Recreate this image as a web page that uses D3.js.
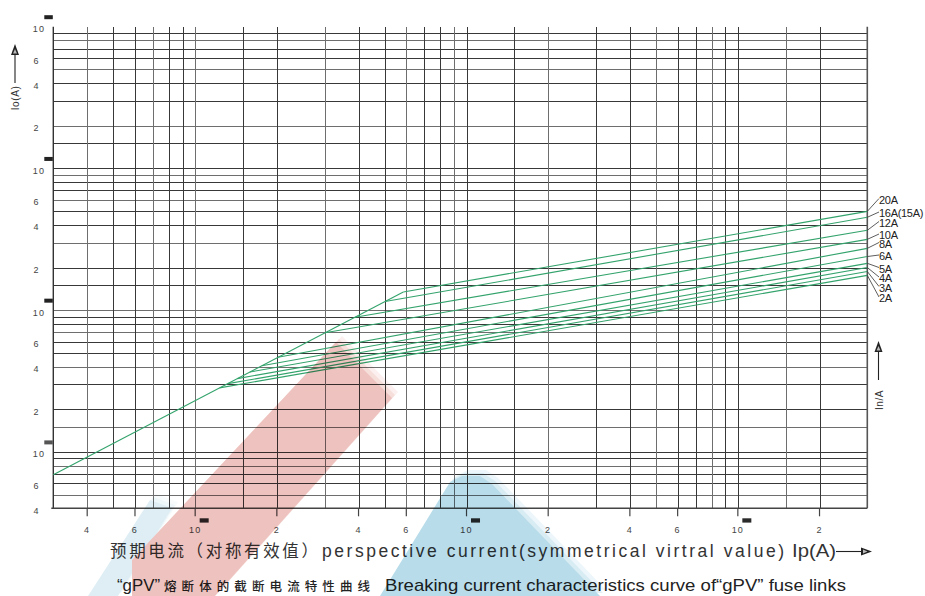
<!DOCTYPE html>
<html>
<head>
<meta charset="utf-8">
<script src="https://cdn.jsdelivr.net/npm/d3@7/dist/d3.min.js"></script>
<style>
  html, body { margin: 0; padding: 0; background: #fff; }
  svg { display: block; }
</style>
</head>
<body>
<svg id="chart" width="925" height="596"></svg>
<script>
// Breaking (cut-off) current characteristics of gPV fuse links, log-log.
const ratings = ["2A", "3A", "4A", "5A", "6A", "8A", "10A", "12A", "16A(15A)", "20A"];
// point where each curve leaves the peak-current line (prospective A, cut-off A)
const kneeIp = [123, 132, 143, 159, 176, 202, 301, 388, 501, 585];
const kneeIo = [283, 303, 329, 366, 405, 465, 692, 892, 1150, 1345];
// cut-off current at the right end of the chart (Ip = 30 kA)
const endIp = 30000;
const endIo = [1760, 1875, 2000, 2140, 2390, 2730, 3160, 3660, 4520, 4980];
// start of the shared peak-current line
const peakStart = [30, 69];

const gridMultipliers = [1, 1.5, 2, 3, 4, 5, 6, 7, 8, 9];
const decades = [10, 100, 1000, 10000, 100000];

const xTickValues = [40, 60, 100, 200, 400, 600, 1000, 2000, 4000, 6000, 10000, 20000];
const xTickLabels = ["4", "6", "10", "2", "4", "6", "10", "2", "4", "6", "10", "2"];
const yTickValues = [40, 60, 100, 200, 400, 600, 1000, 2000, 4000, 6000, 10000, 20000, 40000, 60000, 100000];
const yTickLabels = ["4", "6", "10", "2", "4", "6", "10", "2", "4", "6", "10", "2", "4", "6", "10"];

// ---- layout ----
const L = 53.3, R = 867.3, T = 26.7, B = 508.3;
const labelY = [298, 287.5, 278, 268.5, 256, 243.5, 235, 222.5, 213, 199.5];

const svg = d3.select("#chart");
const x = d3.scaleLog().domain([30, 30000]).range([L, R]);
const y = d3.scaleLog().domain([40, 100000]).range([B, T]);

const gridVals = (dom) => decades.flatMap(d => gridMultipliers.map(m => +(d * m / 10).toPrecision(6)))
  .filter(v => v >= dom[0] - 1e-9 && v <= dom[1] + 1e-9);

const grid = svg.append("g").attr("stroke-width", 1.05).attr("shape-rendering", "crispEdges");
grid.selectAll("line.h").data(gridVals(y.domain())).join("line")
  .attr("class", "h")
  .attr("x1", L).attr("x2", R)
  .attr("y1", d => Math.round(y(d)) + 0.5).attr("y2", d => Math.round(y(d)) + 0.5)
  .attr("stroke", (d, i) => i % 3 === 1 ? "#6e6e6e" : "#383838");
grid.selectAll("line.v").data(gridVals(x.domain())).join("line")
  .attr("class", "v")
  .attr("y1", T).attr("y2", B)
  .attr("x1", d => Math.round(x(d)) + 0.5).attr("x2", d => Math.round(x(d)) + 0.5)
  .attr("stroke", (d, i) => i % 3 === 1 ? "#6e6e6e" : "#383838");

// frame lines
svg.append("line").attr("x1", L).attr("x2", L).attr("y1", T).attr("y2", B).attr("stroke", "#333").attr("stroke-width", 1.4);
svg.append("line").attr("x1", R).attr("x2", R).attr("y1", T).attr("y2", B).attr("stroke", "#555").attr("stroke-width", 1.6);
svg.append("line").attr("x1", L - 2).attr("x2", R).attr("y1", B).attr("y2", B).attr("stroke", "#444").attr("stroke-width", 1.4);

// x axis: long ticks under the labelled values
const xt = svg.append("g");
xt.selectAll("line").data(xTickValues).join("line")
  .attr("x1", d => x(d)).attr("x2", d => x(d))
  .attr("y1", B).attr("y2", B + 8).attr("stroke", "#444").attr("stroke-width", 1.2);
xt.selectAll("text").data(xTickValues).join("text")
  .attr("x", d => x(d)).attr("y", 533)
  .attr("text-anchor", "middle")
  .attr("font-family", "Liberation Sans, Arial, sans-serif").attr("font-size", 9)
  .attr("letter-spacing", 1.2).attr("fill", "#444")
  .text((d, i) => xTickLabels[i]);
// exponent marks beside the decade labels
xt.selectAll("rect").data(xTickValues.filter((d, i) => xTickLabels[i] === "10")).join("rect")
  .attr("x", d => x(d) + 4.5).attr("y", 518.3).attr("width", 9).attr("height", 4.3)
  .attr("fill", "#2a2a2a");

// y axis labels
const yt = svg.append("g");
yt.selectAll("text").data(yTickValues).join("text")
  .attr("x", (d, i) => yTickLabels[i] === "10" ? 39 : 36.5)
  .attr("y", d => y(d) + 5.5)
  .attr("text-anchor", "middle")
  .attr("font-family", "Liberation Sans, Arial, sans-serif").attr("font-size", 9)
  .attr("letter-spacing", 1.2).attr("fill", "#444")
  .text((d, i) => yTickLabels[i]);
yt.selectAll("rect").data(yTickValues.filter((d, i) => yTickLabels[i] === "10")).join("rect")
  .attr("x", 44.3).attr("y", d => y(d) - 11.5).attr("width", 8.5).attr("height", 4)
  .attr("fill", (d, i) => i === 0 ? "#555" : "#222");

// curves: shared peak-current line, then each limiting characteristic
const line = d3.line().x(d => x(d[0])).y(d => y(d[1]));
const lastIdx = ratings.length - 1;
const curves = ratings.map((r, i) => ({
  name: r,
  pts: [[kneeIp[i], kneeIo[i]], [endIp, endIo[i]]]
}));
const cg = svg.append("g").attr("fill", "none").attr("stroke", "#33a36c").attr("stroke-width", 1.1);
cg.append("path").attr("d", line([peakStart, [kneeIp[lastIdx], kneeIo[lastIdx]]]));
cg.selectAll("path.c").data(curves).join("path").attr("class", "c")
  .attr("d", d => line(d.pts));

// right-hand rating labels with leader lines
const lab = svg.append("g");
lab.selectAll("line").data(curves).join("line")
  .attr("x1", R).attr("y1", d => y(d.pts[1][1]))
  .attr("x2", 879).attr("y2", (d, i) => labelY[i] - 1)
  .attr("stroke", "#333").attr("stroke-width", 0.8);
lab.selectAll("text").data(curves).join("text")
  .attr("x", 879).attr("y", (d, i) => labelY[i] + 4)
  .attr("font-family", "Liberation Sans, Arial, sans-serif").attr("font-size", 11)
  .attr("letter-spacing", -0.3).attr("fill", "#222")
  .text(d => d.name);

// axis titles with arrows
function arrowHead(g, cx, cy, dir) {
  const p = dir === "up"
    ? [[cx, cy - 7], [cx - 4, cy + 4], [cx + 4, cy + 4]]
    : [[cx + 7, cy], [cx - 4, cy - 4], [cx - 4, cy + 4]];
  g.append("path").attr("d", "M" + p.join("L") + "Z").attr("fill", "#222");
  const q = dir === "up"
    ? [[cx, cy - 2], [cx - 2, cy + 2.5], [cx + 2, cy + 2.5]]
    : [[cx + 2.5, cy], [cx - 2, cy - 2], [cx - 2, cy + 2]];
  g.append("path").attr("d", "M" + q.join("L") + "Z").attr("fill", "#bbb");
}
const ttl = svg.append("g");
ttl.append("line").attr("x1", 15).attr("x2", 15).attr("y1", 54).attr("y2", 83).attr("stroke", "#222").attr("stroke-width", 1.1);
arrowHead(ttl, 15, 51, "up");
ttl.append("text").attr("transform", "translate(19,98) rotate(-90)")
  .attr("text-anchor", "middle").attr("font-family", "Liberation Sans, Arial, sans-serif")
  .attr("font-size", 10).attr("letter-spacing", 0.6).attr("fill", "#333").text("Io(A)");

ttl.append("line").attr("x1", 878.5).attr("x2", 878.5).attr("y1", 352).attr("y2", 380).attr("stroke", "#222").attr("stroke-width", 1.1);
arrowHead(ttl, 878.5, 348, "up");
ttl.append("text").attr("transform", "translate(882.5,400) rotate(-90)")
  .attr("text-anchor", "middle").attr("font-family", "Liberation Sans, Arial, sans-serif")
  .attr("font-size", 10).attr("letter-spacing", 0.6).attr("fill", "#333").text("In/A");

// x title
ttl.append("text").attr("x", 110).attr("y", 557)
  .attr("font-family", "Noto Sans CJK SC, sans-serif").attr("font-size", 16.5)
  .attr("fill", "#333").attr("textLength", 208).attr("lengthAdjust", "spacing")
  .text("预期电流（对称有效值）");
ttl.append("text").attr("x", 322).attr("y", 557)
  .attr("font-family", "Liberation Sans, Arial, sans-serif").attr("font-size", 17.5)
  .attr("fill", "#333").attr("textLength", 462).attr("lengthAdjust", "spacing")
  .text("perspective current(symmetrical virtral value)");
ttl.append("text").attr("x", 792).attr("y", 557)
  .attr("font-family", "Liberation Sans, Arial, sans-serif").attr("font-size", 17.5)
  .attr("fill", "#333").attr("textLength", 44).attr("lengthAdjust", "spacingAndGlyphs")
  .text("Ip(A)");
ttl.append("line").attr("x1", 836).attr("x2", 862).attr("y1", 551.5).attr("y2", 551.5).attr("stroke", "#222").attr("stroke-width", 1.1);
arrowHead(ttl, 865, 551.5, "right");

// caption
const cap = svg.append("g").attr("fill", "#222");
cap.append("text").attr("x", 117).attr("y", 591)
  .attr("font-family", "Liberation Sans, Arial, sans-serif").attr("font-size", 16)
  .attr("textLength", 43).attr("lengthAdjust", "spacingAndGlyphs").text("“gPV”");
cap.append("text").attr("x", 164).attr("y", 591)
  .attr("font-family", "Noto Sans CJK SC, sans-serif").attr("font-size", 12.5).attr("font-weight", 500)
  .attr("textLength", 206).attr("lengthAdjust", "spacing").text("熔断体的截断电流特性曲线");
cap.append("text").attr("x", 385).attr("y", 591)
  .attr("font-family", "Liberation Sans, Arial, sans-serif").attr("font-size", 17)
  .attr("textLength", 461).attr("lengthAdjust", "spacingAndGlyphs")
  .text("Breaking current characteristics curve of“gPV”  fuse links");

// translucent ribbons laid over the sheet
const wm = svg.append("g").style("mix-blend-mode", "multiply");
function ribbon(pts, color) {
  [[6, 0.25], [3, 0.4], [0, 1]].forEach(([o, a]) => {
    wm.append("path")
      .attr("d", "M" + pts.map(p => [p[0] + o, p[1] - o]).join("L") + "Z")
      .attr("fill", color).attr("opacity", a);
  });
}
ribbon([[150, 500], [172, 508], [118, 596], [88, 596]], "#deeef4");
ribbon([[336, 342], [392, 398], [215, 596], [132, 596], [132, 560]], "#eec3bf");
ribbon([[450, 482], [462, 476], [480, 476], [492, 484], [600, 596], [380, 596]], "#b9dcea");
</script>
</body>
</html>
